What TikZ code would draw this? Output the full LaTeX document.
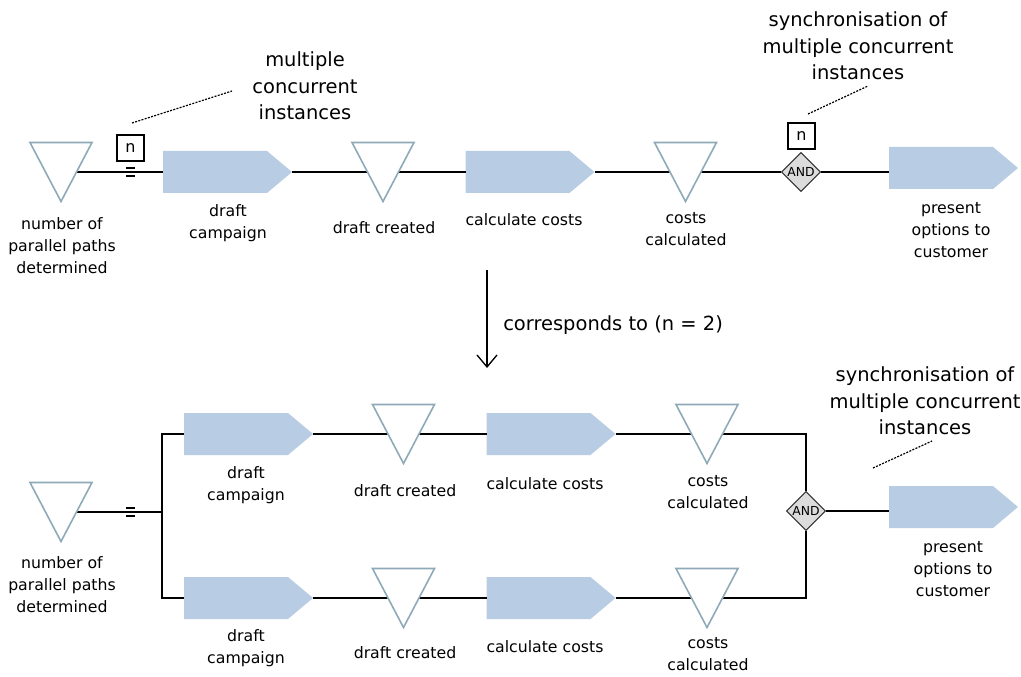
\documentclass[tikz,border=0pt]{standalone}
\usepackage{fontspec}
\setmainfont{DejaVu Sans}
\usetikzlibrary{shapes.geometric,arrows.meta}
\newlength\pxu \setlength\pxu{0.75pt}
\definecolor{boxblue}{RGB}{184,204,228}
\definecolor{triline}{RGB}{142,170,184}
\definecolor{andfill}{RGB}{220,220,220}
\begin{document}
\begin{tikzpicture}[x=0.75pt,y=-0.75pt,
 lbl/.style={align=center,font=\fontsize{11.8}{16.5}\selectfont,inner sep=0},
 biglbl/.style={align=center,font=\fontsize{14.6}{20}\selectfont,inner sep=0},
 trinode/.style={minimum width=62\pxu,minimum height=59\pxu,inner sep=0,outer sep=0},
 procbox/.style={minimum width=129\pxu,minimum height=42\pxu,inner sep=0,outer sep=0,
   path picture={\fill[boxblue] (path picture bounding box.north west) -- ([xshift=-25\pxu]path picture bounding box.north east) -- (path picture bounding box.east) -- ([xshift=-25\pxu]path picture bounding box.south east) -- (path picture bounding box.south west) -- cycle;}},
 andgate/.style={diamond,aspect=1,draw=black!80,fill=andfill,minimum size=39\pxu,inner sep=0,font=\fontsize{9.3}{10}\selectfont,line width=0.8pt},
 nbox/.style={draw,minimum width=27\pxu,minimum height=26\pxu,inner sep=0,font=\fontsize{12}{14}\selectfont,line width=0.9pt},
 conn/.style={line width=1pt,black},
 tri/.style={draw=triline,fill=white,line width=1.2pt},
 callout/.style={dash pattern=on 1.5pt off 1pt,line width=0.9pt}
]
\useasboundingbox (0,0) rectangle (1021,677);

% ---------- top diagram ----------
\node[trinode] (t1) at (61,172) {};
\node[procbox] (b1) at (227.5,172) {};
\node[trinode] (t2) at (383,172) {};
\node[procbox] (b2) at (530,172) {};
\node[trinode] (t3) at (685.5,172) {};
\node[andgate] (and1) at (801,172) {AND};
\node[nbox] (n1) at (130.5,148) {n};
\node[nbox] (n2) at (801.5,136) {n};
\node[procbox] (b4) at (953.5,168) {};

\draw[conn] (t1.center) -- (b1.west);
\draw[conn] (126,168) -- (135,168) (126,176) -- (135,176);
\draw[conn] (b1.east) -- (t2.center);
\draw[conn] (t2.center) -- (b2.west);
\draw[conn] (b2.east) -- (t3.center);
\draw[conn] (t3.center) -- (and1.west);
\draw[conn] (and1.east) -- (and1.east -| b4.west);

\node[lbl] (l1) at (62,246) {number of\\parallel paths\\determined};
\node[lbl] (l2) at (228,223) {draft\\campaign};
\node[lbl] (l3) at (384,228) {draft created};
\node[lbl] (l4) at (524,220) {calculate costs};
\node[lbl] (l5) at (686,229) {costs\\calculated};
\node[lbl] (l6) at (951,230) {present\\options to\\customer};

\node[biglbl] (c1) at (305,86) {multiple\\concurrent\\instances};
\node[biglbl] (c2) at (858,46) {synchronisation of\\multiple concurrent\\instances};
\draw[callout] (132,123) -- (232,91);
\draw[callout] (808,114) -- (868,86);

% ---------- arrow ----------
\coordinate (arrS) at (487,270);
\coordinate (arrE) at (487,368);
\draw[conn,-{Straight Barb[length=9pt,width=15pt]}] (arrS) -- (arrE);
\node[font=\fontsize{14.6}{20}\selectfont,anchor=west,inner sep=0] (corr) at (503,325) {corresponds to (n = 2)};

% ---------- bottom diagram ----------
\node[trinode] (tb) at (61,512) {};
\coordinate (split) at (162,512);
\node[procbox] (bu1) at (248.5,434) {};
\node[trinode] (tu2) at (403.5,434) {};
\node[procbox] (bu2) at (551,434) {};
\node[trinode] (tu3) at (707,434) {};
\node[procbox] (bl1) at (248.5,598) {};
\node[trinode] (tl2) at (403.5,598) {};
\node[procbox] (bl2) at (551,598) {};
\node[trinode] (tl3) at (707,598) {};
\node[andgate] (and2) at (806,511) {AND};
\node[procbox] (bb4) at (953.5,507) {};

\draw[conn] (tb.center) -- (split);
\draw[conn] (126,508) -- (135,508) (126,516) -- (135,516);
\draw[conn] (bu1.west) -| (split) |- (bl1.west);
\draw[conn] (bu1.east) -- (tu2.center);
\draw[conn] (tu2.center) -- (bu2.west);
\draw[conn] (bu2.east) -- (tu3.center);
\draw[conn] (tu3.center) -| (and2.north);
\draw[conn] (bl1.east) -- (tl2.center);
\draw[conn] (tl2.center) -- (bl2.west);
\draw[conn] (bl2.east) -- (tl3.center);
\draw[conn] (tl3.center) -| (and2.south);
\draw[conn] (and2.east) -- (and2.east -| bb4.west);

\node[lbl] (m1) at (62,585) {number of\\parallel paths\\determined};
\node[lbl] (m2) at (246,485) {draft\\campaign};
\node[lbl] (m3) at (405,491) {draft created};
\node[lbl] (m4) at (545,484) {calculate costs};
\node[lbl] (m5) at (708,492) {costs\\calculated};
\node[lbl] (m6) at (953,569) {present\\options to\\customer};
\node[lbl] (m7) at (246,648) {draft\\campaign};
\node[lbl] (m8) at (405,653) {draft created};
\node[lbl] (m9) at (545,647) {calculate costs};
\node[lbl] (m10) at (708,654) {costs\\calculated};

\node[biglbl] (c3) at (925,401) {synchronisation of\\multiple concurrent\\instances};
\draw[callout] (873,468) -- (932,441);

% triangles drawn on top of connectors
\foreach \t in {t1,t2,t3,tb,tu2,tu3,tl2,tl3}
  \draw[tri] (\t.north west) -- (\t.north east) -- (\t.south) -- cycle;
\end{tikzpicture}
\end{document}
